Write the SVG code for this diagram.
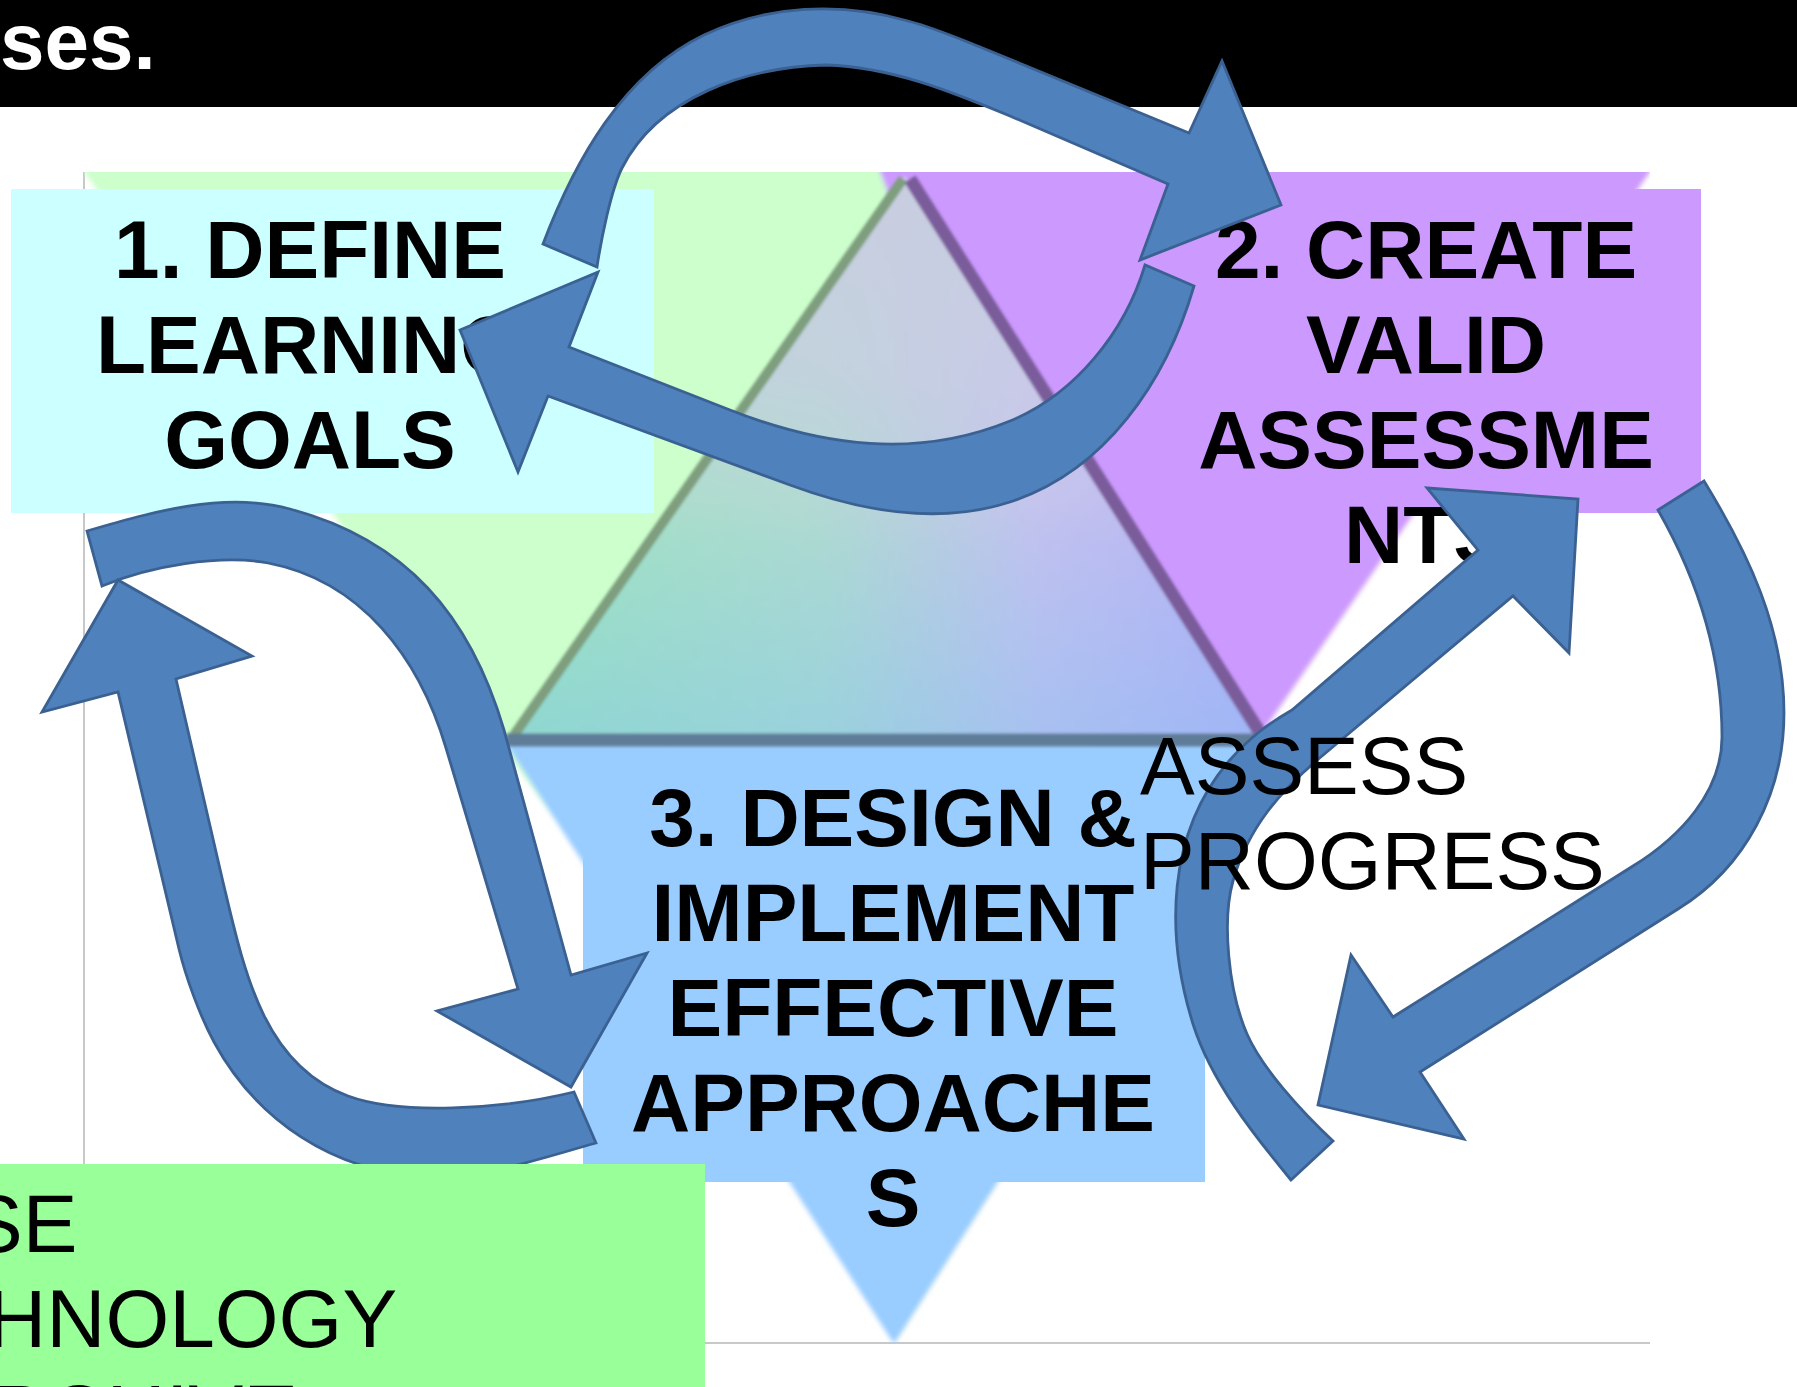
<svg xmlns="http://www.w3.org/2000/svg" width="1797" height="1387" viewBox="0 0 1797 1387">
<defs>
<style>
.t{font-family:"Liberation Sans",Arial,sans-serif;font-size:82px;fill:#000}
.b{font-weight:bold}
.c{text-anchor:middle}
.arrow{fill:#4f81bd;stroke:#3a6191;stroke-width:2.8;stroke-linejoin:miter}
.axis{stroke:#c8c8c8;stroke-width:2;fill:none}
</style>
<filter id="soft" x="-5%" y="-5%" width="110%" height="110%"><feGaussianBlur stdDeviation="2.5"/></filter>
<filter id="soft2" x="-5%" y="-5%" width="110%" height="110%"><feGaussianBlur stdDeviation="1.8"/></filter>
<clipPath id="chart"><rect x="84" y="172" width="1566" height="1171"/></clipPath>
<linearGradient id="gH" gradientUnits="userSpaceOnUse" x1="540" y1="0" x2="1250" y2="0">
<stop offset="0" stop-color="#96e6b8"/>
<stop offset="0.4" stop-color="#a8dccc"/>
<stop offset="0.7" stop-color="#c0bef0"/>
<stop offset="1" stop-color="#b4aaf8"/>
</linearGradient>
<linearGradient id="gV" gradientUnits="userSpaceOnUse" x1="0" y1="180" x2="0" y2="740">
<stop offset="0" stop-color="#c8cee0" stop-opacity="1"/>
<stop offset="0.35" stop-color="#cdcee4" stop-opacity="0.7"/>
<stop offset="0.65" stop-color="#d0d2e8" stop-opacity="0.15"/>
<stop offset="1" stop-color="#d0d4e8" stop-opacity="0"/>
</linearGradient>
<linearGradient id="gB" gradientUnits="userSpaceOnUse" x1="0" y1="500" x2="0" y2="740">
<stop offset="0" stop-color="#88c4f2" stop-opacity="0"/>
<stop offset="1" stop-color="#88c4f2" stop-opacity="0.45"/>
</linearGradient>
</defs>
<rect width="1797" height="1387" fill="#ffffff"/>

<g id="header">
<rect x="0" y="0" width="1797" height="107" fill="#000000"/>
<text x="0" y="69" style="font-family:'Liberation Sans',Arial,sans-serif;font-size:80px;font-weight:bold;fill:#ffffff">ses.</text>
</g>

<g id="axes">
<line class="axis" x1="84" y1="172" x2="84" y2="1343"/>
<line class="axis" x1="84" y1="1343" x2="1650" y2="1343"/>
</g>

<g id="triangle-graphic" clip-path="url(#chart)">
<g filter="url(#soft)">
<polygon fill="#ccffcc" points="68,150 914,150 610,895"/>
<polygon fill="#cc99ff" points="872,150 1665,150 1150,895"/>
<polygon fill="#99ccff" points="505,742 1280,742 894,1344"/>
</g>
<g filter="url(#soft2)">
<polygon fill="url(#gH)" points="905,176 508,741 1266,741"/>
<polygon fill="url(#gV)" points="905,176 508,741 1266,741"/>
<polygon fill="url(#gB)" points="905,176 508,741 1266,741"/>
<line x1="903" y1="179" x2="512" y2="738" stroke="#7e9e7e" stroke-width="10"/>
<line x1="910" y1="179" x2="1262" y2="736" stroke="#7a5c9a" stroke-width="13"/>
<line x1="506" y1="740" x2="1268" y2="740" stroke="#5e7c98" stroke-width="13"/>
</g>
</g>

<g id="node-1">
<rect x="11" y="189" width="643" height="324" fill="#ccffff"/>
<text class="t b c" x="310" y="278">1. DEFINE</text>
<text class="t b c" x="310" y="373">LEARNING</text>
<text class="t b c" x="310" y="468">GOALS</text>
</g>

<g id="node-2">
<rect x="1152" y="189" width="549" height="324" fill="#cc99ff"/>
<text class="t b c" x="1426" y="278">2. CREATE</text>
<text class="t b c" x="1426" y="373">VALID</text>
<text class="t b c" x="1426" y="468">ASSESSME</text>
<text class="t b c" x="1426" y="563">NTS</text>
</g>

<g id="node-3">
<rect x="583" y="858" width="622" height="324" fill="#99ccff"/>
<text class="t b c" x="893" y="846">3. DESIGN &amp;</text>
<text class="t b c" x="893" y="941">IMPLEMENT</text>
<text class="t b c" x="893" y="1036">EFFECTIVE</text>
<text class="t b c" x="893" y="1131">APPROACHE</text>
<text class="t b c" x="893" y="1226">S</text>
</g>

<g id="connectors">
<path class="arrow" d="M 543,244 C 575,160 623,74 704,35 C 767,5 841,1.5 908,21 C 935,28 960,39 985,49 L 1189,133 L 1222,61 L 1281,205 L 1140,260 L 1168,184 L 1010,116 C 950,91 891,67 826,65 C 746,67 658,97 622,168 C 611,190 601,240 597,267 Z"/>
<path class="arrow" d="M 460,330 L 598,272 L 569,347 L 730,410 C 823,446.5 917,459 1010,421 C 1075,394.5 1125,332 1145,265 L 1194,286 C 1166,382 1105,471 1010,502 C 939,525 860,511 790,485 L 548,396 L 518,472 Z"/>
<path class="arrow" d="M 87,531 C 152,512 224,491 290,509 C 406,540 470,615 504,730 L 571,975 L 647,953 L 571,1087 L 437,1011 L 518,989 L 446,748 C 419,657 361,581 268,563 C 220,554 150,566 102,586 Z"/>
<path class="arrow" d="M 574,1092 L 596,1143 C 538,1159 484,1179 424,1176 C 334,1172 257,1121 214,1042 C 200,1016 186,978 179,949 L 118,692 L 42,712 L 118,580 L 252,656 L 176,679 L 223,882 C 244,970 263,1065 348,1096 C 400,1115 500,1110 574,1092 Z"/>
<path class="arrow" d="M 1291,1180 C 1253,1134 1211,1081 1193,1024 C 1165,934 1167,833 1229,761 C 1250,737 1268,724 1292,710 L 1478,550 L 1427,488 L 1578,499 L 1569,653 L 1513,596 L 1322,756 C 1280,791 1248,828 1233,881 C 1222,920 1228,990 1247,1034 C 1262,1068 1300,1110 1333,1141 Z"/>
<path class="arrow" d="M 1658,510 L 1704,481 C 1748,553 1784,628 1784,713 C 1784,793 1746,867 1678,909 L 1420,1072 L 1464,1139 L 1318,1105 L 1351,955 L 1393,1017 L 1633,866 C 1680,837 1722,792 1722,737 C 1722,657 1698,580 1658,510 Z"/>
</g>

<g id="node-4">
<rect x="0" y="1164" width="705" height="223" fill="#99ff99"/>
<text class="t" x="-32" y="1252">SE</text>
<text class="t" x="-13" y="1347">HNOLOGY</text>
<text class="t" x="-12" y="1442">RCHIVE</text>
</g>

<g id="label-assess">
<text class="t" x="1140" y="794">ASSESS</text>
<text class="t" x="1140" y="889">PROGRESS</text>
</g>
</svg>
